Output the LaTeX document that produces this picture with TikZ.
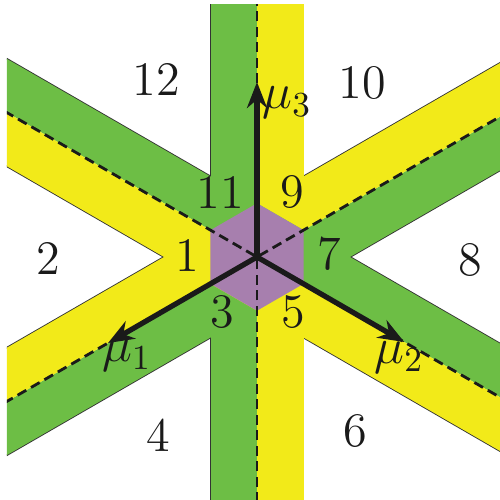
\documentclass[tikz,border=0pt]{standalone}
\usetikzlibrary{arrows.meta}
\definecolor{stgreen}{HTML}{6DBE45}
\definecolor{styellow}{HTML}{F2EA19}
\definecolor{stpurple}{HTML}{A77FAE}
\definecolor{stink}{HTML}{1A1A1A}
\tikzset{
  greenhalf/.style={fill=stgreen},
  yellowhalf/.style={fill=styellow},
  rim/.style={draw=black!80,line width=.5pt},
  core/.style={fill=stpurple},
  midline/.style={draw=stink,line width=.8pt,dash pattern=on 1mm off .55mm},
  axis/.style={-{Stealth[length=2.6mm,width=2mm]},draw=stink,line width=1.5pt},
  region/.style={font=\fontsize{13.7}{16}\selectfont,text=stink,inner sep=0pt},
  axislabel/.style={font=\fontsize{13.7}{16}\selectfont,text=stink,inner sep=0pt},
}

\begin{document}
\begin{tikzpicture}[x=.1mm,y=.1mm]
  \useasboundingbox (-257,-243) rectangle (243,257);
  \coordinate (O) at (0,0);

  \begin{scope}
    \clip (-250,-243) rectangle (243,252);
    % rims first, the fills then hide everything but the outer edge
    \foreach \a in {90,210,330}
      \draw[rim,rotate=\a] (-400,-46.5) rectangle (400,46.5);
    \foreach \a in {90,210,330} {
      \fill[greenhalf,rotate=\a] (-400,0) rectangle (400,46.5);
      \fill[yellowhalf,rotate=\a] (-400,-46.5) rectangle (400,0);
    }
    \fill[core] (30:53.7) -- (90:53.7) -- (150:53.7) -- (210:53.7) -- (270:53.7) -- (330:53.7) -- cycle;
    \foreach \a in {90,210,330}
      \draw[midline,rotate=\a] (-400,0) -- (400,0);
  \end{scope}

  \coordinate (m3) at (90:175);
  \coordinate (m1) at (210:172);
  \coordinate (m2) at (330:170);
  \draw[axis] (O) -- (m3);
  \draw[axis] (O) -- (m1);
  \draw[axis] (O) -- (m2);
  \node[axislabel] (lm3) at (30,154) {$\mu_3$};
  \node[axislabel] (lm1) at (-130,-99) {$\mu_1$};
  \node[axislabel] (lm2) at (142,-101) {$\mu_2$};

  \node[region] (r12) at (-101,177) {12};
  \node[region] (r10) at (105,174) {10};
  \node[region] (r11) at (-37,65) {11};
  \node[region] (r9) at (35,65) {9};
  \node[region] (r2) at (-209,-1) {2};
  \node[region] (r1) at (-70,2) {1};
  \node[region] (r7) at (72,3) {7};
  \node[region] (r8) at (213,-3) {8};
  \node[region] (r3) at (-35,-55) {3};
  \node[region] (r5) at (36,-55) {5};
  \node[region] (r4) at (-99,-178) {4};
  \node[region] (r6) at (98,-174) {6};
\end{tikzpicture}
\end{document}
